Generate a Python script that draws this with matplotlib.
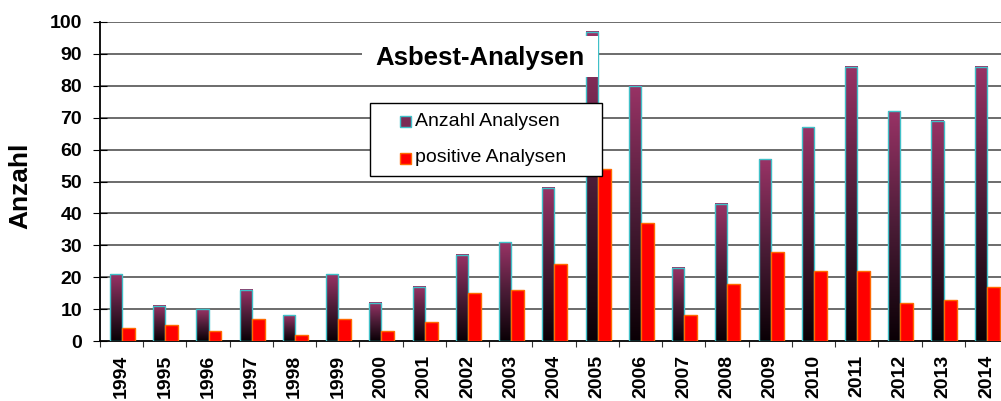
import numpy as np
import matplotlib.pyplot as plt
from matplotlib.colors import LinearSegmentedColormap

plt.rcParams['font.family'] = ['Liberation Sans', 'DejaVu Sans']

years = ['1994', '1995', '1996', '1997', '1998', '1999', '2000', '2001', '2002', '2003', '2004',
         '2005', '2006', '2007', '2008', '2009', '2010', '2011', '2012', '2013', '2014']
anzahl = [21, 11, 10, 16, 8, 21, 12, 17, 27, 31, 48, 97, 80, 23, 43, 57, 67, 86, 72, 69, 86]
positiv = [4, 5, 3, 7, 2, 7, 3, 6, 15, 16, 24, 54, 37, 8, 18, 28, 22, 22, 12, 13, 17]

W, H = 1001, 401
fig = plt.figure(figsize=(W / 100, H / 100), dpi=100)
ax = fig.add_axes([100 / W, 1 - 341 / H, 908 / W, 319 / H])

lila = '#993366'
cmap = LinearSegmentedColormap.from_list('lila', ['#0a0005', '#4a1c36', lila])
grad = np.linspace(0, 1, 256).reshape(-1, 1)

# Gitterlinien
for yv in range(10, 101, 10):
    ax.axhline(yv, color='#606060', lw=1.3, zorder=1)

for i in range(len(years)):
    x0 = i + 0.23
    x1 = i + 0.51
    ax.imshow(grad, extent=[x0, x1, 0, anzahl[i]], origin='lower', aspect='auto',
              cmap=cmap, zorder=2)
    ax.add_patch(plt.Rectangle((x0, 0), x1 - x0, anzahl[i], fill=False,
                               ec='#40c0c8', lw=1.0, zorder=3))
    ax.bar(i + 0.51, positiv[i], width=0.30, align='edge', color='#ff0000',
           edgecolor='#ff6a00', lw=1.0, zorder=3)

ax.set_xlim(0, 21)
ax.set_ylim(0, 100)
ax.set_yticks(range(0, 101, 10))
ax.set_yticklabels([str(v) for v in range(0, 101, 10)], fontsize=14, fontweight='bold')
ax.set_xticks(np.arange(0, 22))
ax.set_xticklabels([])
ax.set_xticks(np.arange(21) + 0.5, minor=True)
ax.set_xticklabels(years, minor=True, rotation=90, fontsize=14, fontweight='bold')
ax.tick_params(axis='x', which='minor', length=0, pad=10)
ax.tick_params(axis='x', which='major', length=4, direction='out', color='#333333')
ax.tick_params(axis='y', length=10, direction='inout', pad=8)
ax.set_ylabel('Anzahl', fontsize=19, fontweight='bold')
ax.yaxis.set_label_coords(-0.074, 0.486)

for s in ['top', 'right']:
    ax.spines[s].set_visible(False)
ax.spines['left'].set_linewidth(1.3)
ax.spines['bottom'].set_linewidth(1.3)

px = fig.transFigure
# Titel mit weissem Kasten
ax.add_patch(plt.Rectangle((362 / W, 1 - 77 / H), 236 / W, 41 / H, transform=px,
                           fc='white', ec='none', zorder=4, clip_on=False))
fig.text(480 / W, 1 - 58 / H, 'Asbest-Analysen', fontsize=18.5, fontweight='bold',
         ha='center', va='center', zorder=5)

# Legende
ax.add_patch(plt.Rectangle((370 / W, 1 - 176 / H), 232 / W, 73 / H, transform=px,
                           fc='white', ec='black', lw=1.0, zorder=6, clip_on=False))
ax.add_patch(plt.Rectangle((400 / W, 1 - 127 / H), 11 / W, 11 / H, transform=px,
                           fc='#7a2a55', ec='#40c0c8', lw=1.0, zorder=7, clip_on=False))
ax.add_patch(plt.Rectangle((400 / W, 1 - 164 / H), 11 / W, 11 / H, transform=px,
                           fc='#ff0000', ec='#ff6a00', lw=1.0, zorder=7, clip_on=False))
ax.text(415 / W, 1 - 121 / H, 'Anzahl Analysen', transform=px, fontsize=14,
        va='center', ha='left', zorder=8)
ax.text(415 / W, 1 - 158 / H, 'positive Analysen', transform=px, fontsize=14,
        va='center', ha='left', zorder=8)

fig.savefig('out.png', dpi=100)
